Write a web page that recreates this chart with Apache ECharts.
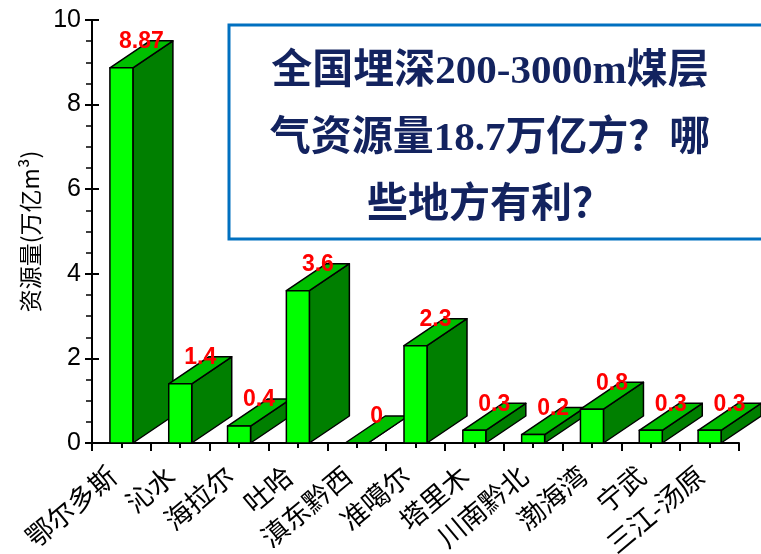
<!DOCTYPE html>
<html>
<head>
<meta charset="utf-8">
<script src="https://cdn.jsdelivr.net/npm/echarts@6/dist/echarts.min.js"></script>
<style>
  html, body { margin: 0; padding: 0; background: #fff; }
  #chart { width: 761px; height: 554px; }
</style>
</head>
<body>
<div id="chart"></div>
<script>
// Coalbed methane resources by basin (万亿m³)
const regions = ['鄂尔多斯', '沁水', '海拉尔', '吐哈', '滇东黔西', '准噶尔', '塔里木', '川南黔北', '渤海湾', '宁武', '三江-汤原'];
const resources = [8.87, 1.4, 0.4, 3.6, 0, 2.3, 0.3, 0.2, 0.8, 0.3, 0.3];
const valueLabels = ['8.87', '1.4', '0.4', '3.6', '0', '2.3', '0.3', '0.2', '0.8', '0.3', '0.3'];
const yTicks = [0, 2, 4, 6, 8, 10];
const headline = ['全国埋深200-3000m煤层', '气资源量18.7万亿方？哪', '些地方有利？'];

// pseudo-3D box geometry (pixels)
const DEPTH_X = 40, DEPTH_Y = 27, FRONT_W = 23;
const EDGE = { stroke: '#000', lineWidth: 1.5, lineJoin: 'round' };

function renderBox(params, api) {
  const idx = api.value(0);
  const top = api.coord([idx, api.value(1)]);
  const base = api.coord([idx, 0]);
  const x0 = top[0] - FRONT_W / 2, x1 = top[0] + FRONT_W / 2;
  const yt = top[1], yb = base[1];
  return {
    type: 'group',
    children: [
      { type: 'polygon',
        shape: { points: [[x1, yb], [x1 + DEPTH_X, yb - DEPTH_Y], [x1 + DEPTH_X, yt - DEPTH_Y], [x1, yt]] },
        style: Object.assign({ fill: '#007F00' }, EDGE) },
      { type: 'polygon',
        shape: { points: [[x0, yt], [x1, yt], [x1 + DEPTH_X, yt - DEPTH_Y], [x0 + DEPTH_X, yt - DEPTH_Y]] },
        style: Object.assign({ fill: '#00BF00' }, EDGE) },
      { type: 'rect',
        shape: { x: x0, y: yt, width: FRONT_W, height: yb - yt },
        style: Object.assign({ fill: '#00FF00' }, EDGE) }
    ]
  };
}

function renderValueLabel(params, api) {
  const idx = api.value(0);
  const top = api.coord([idx, api.value(1)]);
  return {
    type: 'text',
    x: top[0] + DEPTH_X / 2,
    y: top[1] - DEPTH_Y + 1,
    style: {
      text: valueLabels[idx],
      fill: '#FF0000',
      font: 'bold 23px "Liberation Sans", Arial, sans-serif',
      align: 'center',
      verticalAlign: 'middle'
    }
  };
}

const boxData = resources.map((v, i) => [i, v]);
const chart = echarts.init(document.getElementById('chart'), null, { renderer: 'canvas' });

chart.setOption({
  animation: false,
  backgroundColor: '#fff',
  grid: { left: 92, right: 22, top: 20, bottom: 111, outerBoundsMode: 'none' },
  xAxis: [
    {
      type: 'category',
      data: regions,
      axisLine: { lineStyle: { color: '#000', width: 2 } },
      axisTick: { show: false },
      axisLabel: {
        interval: 0, rotate: 40, margin: 21, padding: [0, 12, 0, 0],
        color: '#000', fontSize: 27,
        fontFamily: '"Noto Sans CJK SC", sans-serif'
      },
      splitLine: { show: false }
    },
    {
      type: 'value', position: 'bottom',
      min: 0, max: regions.length, interval: 1,
      axisLine: { show: false },
      axisLabel: { show: false },
      splitLine: { show: false },
      axisTick: { show: true, length: 8, lineStyle: { color: '#000', width: 2 } },
      minorTick: { show: true, splitNumber: 2, length: 5, lineStyle: { color: '#000', width: 2 } },
      minorSplitLine: { show: false }
    }
  ],
  yAxis: [
    {
      type: 'value', min: yTicks[0], max: yTicks[yTicks.length - 1], interval: 2,
      axisLine: { show: true, lineStyle: { color: '#000', width: 2 } },
      axisTick: { show: true, length: 7, lineStyle: { color: '#000', width: 2 } },
      minorTick: { show: true, splitNumber: 4, length: 6, lineStyle: { color: '#000', width: 1.5 } },
      splitLine: { show: false },
      minorSplitLine: { show: false },
      axisLabel: { margin: 11, fontSize: 25, color: '#000', fontFamily: '"Liberation Sans", Arial, sans-serif' },
      name: '资源量(万亿m³)',
      nameLocation: 'middle', nameRotate: 90, nameGap: 50,
      nameTextStyle: { fontSize: 23, color: '#000', fontFamily: '"Noto Sans CJK SC", sans-serif' }
    },
    {
      type: 'value', position: 'left', min: 0, max: 10, interval: 2,
      axisLine: { show: false },
      axisLabel: { show: false },
      splitLine: { show: false },
      axisTick: { show: true, inside: true, length: 7, lineStyle: { color: '#000', width: 2 } }
    }
  ],
  series: [
    { type: 'custom', xAxisIndex: 0, yAxisIndex: 0, data: boxData, renderItem: renderBox, z: 2 },
    { type: 'custom', xAxisIndex: 0, yAxisIndex: 0, data: boxData, renderItem: renderValueLabel, z: 3 }
  ],
  graphic: [
    {
      type: 'rect', z: 10,
      shape: { x: 229, y: 25, width: 560, height: 214 },
      style: { fill: '#fff', stroke: '#0070C0', lineWidth: 3 }
    },
    {
      type: 'text', z: 11, x: 490, y: 139,
      style: {
        text: headline.join('\n'),
        font: 'bold 41px "Liberation Serif", "Noto Sans CJK SC", serif',
        fill: '#13235F',
        align: 'center',
        verticalAlign: 'middle',
        lineHeight: 67
      }
    }
  ]
});
</script>
</body>
</html>
